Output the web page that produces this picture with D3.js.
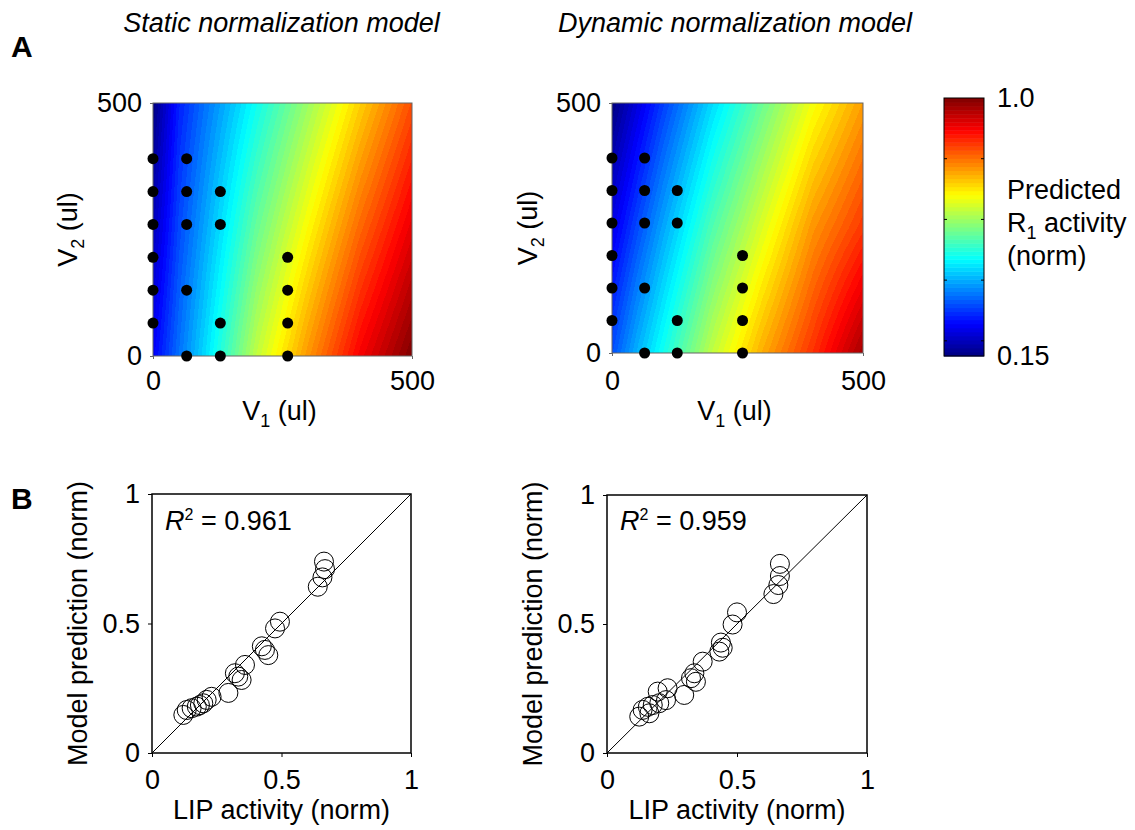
<!DOCTYPE html>
<html>
<head>
<meta charset="utf-8">
<script src="https://cdnjs.cloudflare.com/ajax/libs/d3/7.8.5/d3.min.js"></script>
<style>
body { margin: 0; background: #fff; }
text { font-family: "Liberation Sans", Arial, sans-serif; fill: #000; }
</style>
</head>
<body>
<div id="chart"></div>
<script>
var v1Grid = [0, 50, 100, 200, 300, 400, 500];
var v2Grid = [0, 250, 500];
var staticR1 = [
    [0.25, 0.35, 0.44, 0.63, 0.77, 0.90, 1.00],
    [0.20, 0.315, 0.395, 0.555, 0.685, 0.81, 0.915],
    [0.15, 0.28, 0.35, 0.48, 0.60, 0.72, 0.83]
];
var dynamicR1 = [
    [0.32, 0.405, 0.48, 0.63, 0.75, 0.855, 0.97],
    [0.235, 0.316, 0.392, 0.535, 0.654, 0.77, 0.85],
    [0.15, 0.227, 0.303, 0.439, 0.558, 0.673, 0.762]
];

// stimulus conditions (black dots)
var condV1 = [0, 65, 0, 65, 130, 0, 65, 130, 0, 260, 0, 65, 260, 0, 130, 260, 65, 130, 260];
var condV2 = [390, 390, 325, 325, 325, 260, 260, 260, 195, 195, 130, 130, 130, 65, 65, 65, 0, 0, 0];

// LIP activity vs model prediction
var staticLip  = [0.664, 0.668, 0.658, 0.640, 0.494, 0.475, 0.424, 0.436, 0.449, 0.359, 0.320, 0.333, 0.346, 0.295, 0.230, 0.211, 0.198, 0.185, 0.173, 0.153, 0.134, 0.121];
var staticPred = [0.739, 0.710, 0.678, 0.642, 0.507, 0.481, 0.412, 0.398, 0.378, 0.340, 0.308, 0.295, 0.282, 0.232, 0.217, 0.205, 0.192, 0.185, 0.179, 0.173, 0.166, 0.147];
var dynamicLip  = [0.665, 0.665, 0.659, 0.640, 0.500, 0.483, 0.438, 0.445, 0.432, 0.368, 0.336, 0.323, 0.342, 0.297, 0.233, 0.195, 0.227, 0.201, 0.176, 0.157, 0.137, 0.163, 0.124];
var dynamicPred = [0.733, 0.686, 0.651, 0.616, 0.545, 0.498, 0.428, 0.408, 0.393, 0.354, 0.309, 0.290, 0.276, 0.225, 0.251, 0.238, 0.205, 0.193, 0.186, 0.179, 0.167, 0.154, 0.141];

var titles = ["Static normalization model", "Dynamic normalization model"];
var r2Values = ["0.961", "0.959"];
var heatTicks = [0, 500];
var scatterTicks = [0, 0.5, 1];
var cbarTicks = [0.2, 0.4, 0.6, 0.8];
var cbarMin = 0.15, cbarMax = 1.0;

var svgWidth = 1135;
var svgHeight = 830;
var fontSize = 27;

var svg = d3.select("#chart")
    .append("svg")
    .attr("width", svgWidth)
    .attr("height", svgHeight);

// jet colormap, 64 levels like MATLAB
function jet(v) {
    var t = (v - cbarMin) / (cbarMax - cbarMin);
    t = Math.max(0, Math.min(0.9999, t));
    t = (Math.floor(t * 64) + 0.5) / 64;
    var c = function(a) { return Math.round(255 * Math.max(0, Math.min(1, 1.5 - Math.abs(4 * t - a)))); };
    return [c(3), c(2), c(1)];
}

var heatPanels = [
    {x0: 153, x1: 412, y0: 103, y1: 356, grid: staticR1, ylab: 77},
    {x0: 612, x1: 863, y0: 103, y1: 353, grid: dynamicR1, ylab: 537}
];

heatPanels.forEach(function(p, k) {
    var x = d3.scaleLinear().domain([0, 500]).range([p.x0, p.x1]);
    var y = d3.scaleLinear().domain([0, 500]).range([p.y1, p.y0]);
    var rows = p.grid.map(function(r) { return d3.scaleLinear().domain(v1Grid).range(r); });

    // paint the map into a canvas, one pixel at a time
    var w = p.x1 - p.x0, h = p.y1 - p.y0;
    var canvas = document.createElement("canvas");
    canvas.width = w;
    canvas.height = h;
    var ctx = canvas.getContext("2d");
    var img = ctx.createImageData(w, h);
    for (var j = 0; j < h; j++) {
        var v2 = y.invert(p.y0 + j + 0.5);
        for (var i = 0; i < w; i++) {
            var v1 = x.invert(p.x0 + i + 0.5);
            var col = d3.scaleLinear().domain(v2Grid).range(rows.map(function(r) { return r(v1); }));
            var rgb = jet(col(v2));
            var o = (j * w + i) * 4;
            img.data[o] = rgb[0]; img.data[o + 1] = rgb[1]; img.data[o + 2] = rgb[2]; img.data[o + 3] = 255;
        }
    }
    ctx.putImageData(img, 0, 0);

    var g = svg.append("g");
    g.append("image")
        .attr("x", p.x0).attr("y", p.y0)
        .attr("width", w).attr("height", h)
        .attr("preserveAspectRatio", "none")
        .attr("href", canvas.toDataURL());
    g.append("rect")
        .attr("x", p.x0).attr("y", p.y0)
        .attr("width", w).attr("height", h)
        .attr("fill", "none").attr("stroke", "#666").attr("stroke-width", 1);

    // axes
    var xAxis = g.append("g")
        .attr("transform", `translate(0, ${p.y1})`)
        .call(d3.axisBottom(x).tickValues(heatTicks).tickSizeInner(3).tickSizeOuter(0).tickPadding(390 - p.y1 - 3 - 19));
    var yAxis = g.append("g")
        .attr("transform", `translate(${p.x0}, 0)`)
        .call(d3.axisLeft(y).tickValues(heatTicks).tickSizeInner(3).tickSizeOuter(0).tickPadding(8));
    [xAxis, yAxis].forEach(function(a) {
        a.select(".domain").remove();
        a.selectAll("line").attr("stroke", "#666");
        a.selectAll("text").attr("font-size", fontSize).attr("font-family", "Liberation Sans").attr("fill", "#000");
    });

    // dots
    g.selectAll(".cond")
        .data(condV1)
        .enter()
        .append("circle")
        .attr("cx", (d, i) => x(condV1[i]))
        .attr("cy", (d, i) => y(condV2[i]))
        .attr("r", 5.5)
        .attr("fill", "#000");

    // labels
    var xl = g.append("text")
        .attr("x", (p.x0 + p.x1) / 2 - 3)
        .attr("y", 420)
        .attr("text-anchor", "middle")
        .attr("font-size", fontSize);
    xl.append("tspan").text("V");
    xl.append("tspan").attr("font-size", 18).attr("dy", 7).text("1");
    xl.append("tspan").attr("dy", -7).text(" (ul)");

    var yl = g.append("text")
        .attr("transform", `translate(${p.ylab}, ${(p.y0 + p.y1) / 2}) rotate(-90)`)
        .attr("text-anchor", "middle")
        .attr("font-size", fontSize);
    yl.append("tspan").text("V");
    yl.append("tspan").attr("font-size", 18).attr("dy", 7).text("2");
    yl.append("tspan").attr("dy", -7).text(" (ul)");

    g.append("text")
        .attr("x", k === 0 ? 281.5 : 735)
        .attr("y", 32)
        .attr("text-anchor", "middle")
        .attr("font-size", fontSize)
        .attr("font-style", "italic")
        .text(titles[k]);
});

// colorbar
var cbX0 = 944, cbX1 = 984, cbY0 = 98, cbY1 = 356;
var cbScale = d3.scaleLinear().domain([cbarMin, cbarMax]).range([cbY1, cbY0]);
var levels = d3.range(64).map(i => cbarMin + (i + 0.5) * (cbarMax - cbarMin) / 64);
var step = (cbarMax - cbarMin) / 64;
svg.append("g").selectAll("rect")
    .data(levels)
    .enter()
    .append("rect")
    .attr("x", cbX0)
    .attr("width", cbX1 - cbX0)
    .attr("y", d => cbScale(d + step / 2))
    .attr("height", d => cbScale(d - step / 2) - cbScale(d + step / 2) + 0.5)
    .attr("fill", d => "rgb(" + jet(d).join(",") + ")");
svg.append("rect")
    .attr("x", cbX0).attr("y", cbY0)
    .attr("width", cbX1 - cbX0).attr("height", cbY1 - cbY0)
    .attr("fill", "none").attr("stroke", "#000").attr("stroke-width", 1);
cbarTicks.forEach(function(t) {
    svg.append("line").attr("x1", cbX0).attr("x2", cbX0 + 3).attr("y1", cbScale(t)).attr("y2", cbScale(t)).attr("stroke", "#000");
    svg.append("line").attr("x1", cbX1 - 3).attr("x2", cbX1).attr("y1", cbScale(t)).attr("y2", cbScale(t)).attr("stroke", "#000");
});
svg.append("text").attr("x", 997).attr("y", cbScale(cbarMax) + 9).attr("font-size", fontSize).text("1.0");
svg.append("text").attr("x", 997).attr("y", cbScale(cbarMin) + 9).attr("font-size", fontSize).text("0.15");
svg.append("text").attr("x", 1007).attr("y", 199).attr("font-size", fontSize).text("Predicted");
var r1 = svg.append("text").attr("x", 1007).attr("y", 232).attr("font-size", fontSize);
r1.append("tspan").text("R");
r1.append("tspan").attr("font-size", 18).attr("dy", 7).text("1");
r1.append("tspan").attr("dy", -7).text(" activity");
svg.append("text").attr("x", 1007).attr("y", 265).attr("font-size", fontSize).text("(norm)");

// scatter panels
var scatterPanels = [
    {x0: 152, x1: 411, y0: 494, y1: 753, lip: staticLip, pred: staticPred},
    {x0: 607, x1: 867, y0: 495, y1: 753, lip: dynamicLip, pred: dynamicPred}
];

scatterPanels.forEach(function(p, k) {
    var x = d3.scaleLinear().domain([0, 1]).range([p.x0, p.x1]);
    var y = d3.scaleLinear().domain([0, 1]).range([p.y1, p.y0]);
    var g = svg.append("g");

    var xAxis = g.append("g")
        .attr("transform", `translate(0, ${p.y1})`)
        .call(d3.axisBottom(x).tickValues(scatterTicks).tickFormat(d3.format("")).tickSizeInner(4).tickSizeOuter(0).tickPadding(13));
    var yAxis = g.append("g")
        .attr("transform", `translate(${p.x0}, 0)`)
        .call(d3.axisLeft(y).tickValues(scatterTicks).tickFormat(d3.format("")).tickSizeInner(4).tickSizeOuter(0).tickPadding(8));
    [xAxis, yAxis].forEach(function(a) {
        a.select(".domain").remove();
        a.selectAll("line").attr("stroke", "#000");
        a.selectAll("text").attr("font-size", fontSize).attr("font-family", "Liberation Sans").attr("fill", "#000");
    });

    g.append("line")
        .attr("x1", x(0)).attr("y1", y(0))
        .attr("x2", x(1)).attr("y2", y(1))
        .attr("stroke", "#000").attr("stroke-width", 1);

    g.selectAll(".pt")
        .data(p.lip)
        .enter()
        .append("circle")
        .attr("cx", (d, i) => x(p.lip[i]))
        .attr("cy", (d, i) => y(p.pred[i]))
        .attr("r", 9.5)
        .attr("fill", "none")
        .attr("stroke", "#000")
        .attr("stroke-width", 1);

    g.append("rect")
        .attr("x", p.x0).attr("y", p.y0)
        .attr("width", p.x1 - p.x0).attr("height", p.y1 - p.y0)
        .attr("fill", "none").attr("stroke", "#000").attr("stroke-width", 1.5);

    var r2 = g.append("text").attr("x", p.x0 + 13).attr("y", 530).attr("font-size", fontSize);
    r2.append("tspan").attr("font-style", "italic").text("R");
    r2.append("tspan").attr("font-size", 16).attr("dy", -10).text("2");
    r2.append("tspan").attr("dy", 10).text(" = " + r2Values[k]);

    g.append("text")
        .attr("x", (p.x0 + p.x1) / 2)
        .attr("y", 819)
        .attr("text-anchor", "middle")
        .attr("font-size", fontSize)
        .text("LIP activity (norm)");

    g.append("text")
        .attr("transform", `translate(${p.x0 - 65}, ${(p.y0 + p.y1) / 2}) rotate(-90)`)
        .attr("text-anchor", "middle")
        .attr("font-size", fontSize)
        .text("Model prediction (norm)");
});

// panel letters
svg.append("text").attr("x", 11).attr("y", 57).attr("font-size", 30).attr("font-weight", "bold").text("A");
svg.append("text").attr("x", 11).attr("y", 509).attr("font-size", 30).attr("font-weight", "bold").text("B");
</script>
</body>
</html>
